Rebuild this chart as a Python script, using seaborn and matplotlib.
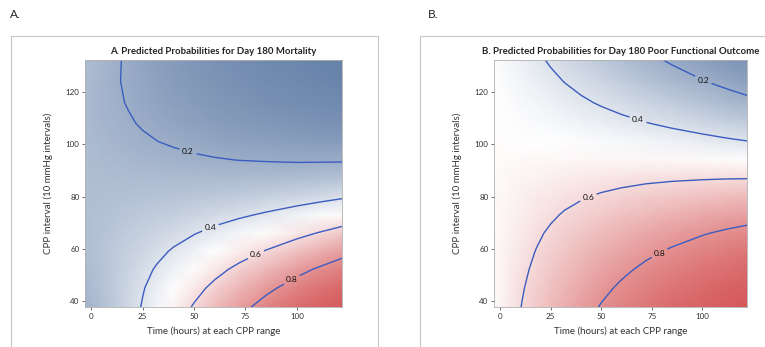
import numpy as np
import matplotlib
matplotlib.use("Agg")
import matplotlib.pyplot as plt
import seaborn as sns

# grid the predicted probabilities were read on
time_h = [-3, 4, 11, 18, 25, 32, 40, 50, 60, 72, 85, 100, 112, 122]
cpp = [37.7, 45, 52, 59, 66, 73, 80, 87, 94, 101, 108, 116, 124, 132.3]

# A. day 180 mortality (rows = cpp, cols = time), x1000
mort = [
    [216, 257, 303, 353, 407, 463, 529, 611, 687, 768, 839, 899, 933, 953],
    [234, 270, 308, 349, 393, 439, 493, 561, 628, 703, 775, 844, 887, 915],
    [247, 276, 307, 339, 374, 410, 453, 508, 564, 630, 698, 770, 819, 855],
    [256, 278, 301, 326, 351, 378, 410, 452, 495, 549, 607, 675, 726, 766],
    [260, 276, 292, 309, 326, 345, 367, 395, 426, 465, 510, 565, 610, 649],
    [261, 271, 280, 290, 301, 311, 324, 341, 360, 384, 413, 451, 485, 515],
    [260, 264, 267, 271, 275, 279, 285, 292, 300, 312, 326, 346, 366, 385],
    [257, 255, 254, 252, 251, 250, 249, 248, 248, 250, 253, 259, 266, 275],
    [254, 247, 241, 235, 229, 224, 218, 211, 205, 199, 195, 191, 191, 191],
    [250, 240, 229, 219, 210, 201, 192, 181, 171, 160, 151, 142, 137, 133],
    [248, 234, 220, 207, 194, 183, 171, 156, 144, 131, 118, 107, 99, 94],
    [248, 230, 212, 196, 181, 167, 152, 136, 121, 106, 93, 80, 72, 66],
    [251, 229, 209, 190, 173, 157, 140, 122, 106, 90, 76, 63, 54, 49],
    [260, 235, 211, 190, 170, 152, 133, 113, 96, 80, 65, 52, 44, 38],
]

# B. day 180 poor functional outcome, x1000
poor = [
    [511, 558, 604, 647, 688, 725, 764, 806, 842, 877, 907, 933, 948, 958],
    [513, 554, 594, 633, 669, 703, 739, 779, 814, 849, 881, 909, 926, 938],
    [513, 549, 584, 618, 650, 681, 713, 750, 783, 818, 849, 879, 898, 912],
    [514, 545, 574, 603, 631, 657, 686, 719, 749, 781, 811, 841, 861, 876],
    [514, 539, 564, 588, 611, 632, 656, 684, 710, 739, 766, 794, 813, 827],
    [514, 534, 553, 571, 589, 607, 625, 648, 668, 691, 713, 736, 753, 765],
    [513, 527, 541, 555, 568, 580, 593, 609, 623, 639, 654, 669, 680, 688],
    [512, 521, 529, 538, 545, 552, 559, 568, 575, 583, 589, 594, 597, 598],
    [510, 514, 517, 520, 522, 524, 525, 526, 525, 524, 520, 514, 508, 501],
    [508, 507, 504, 502, 498, 495, 490, 483, 475, 464, 450, 433, 417, 404],
    [506, 499, 491, 483, 474, 465, 454, 440, 424, 404, 382, 355, 332, 313],
    [503, 490, 476, 461, 447, 431, 414, 391, 368, 340, 309, 274, 246, 224],
    [499, 480, 460, 439, 419, 398, 374, 344, 314, 280, 244, 205, 176, 154],
    [495, 469, 443, 416, 390, 363, 334, 298, 263, 225, 187, 148, 121, 102],
]

levels = [0.2, 0.4, 0.6, 0.8]
xticks = [0, 25, 50, 75, 100]
yticks = [40, 60, 80, 100, 120]
titles = ["A. Predicted Probabilities for Day 180 Mortality",
          "B. Predicted Probabilities for Day 180 Poor Functional Outcome"]
panel_tags = ["A.", "B."]

sns.set_theme(style="white")
plt.rcParams["font.family"] = ["Lato", "DejaVu Sans"]
cmap = sns.blend_palette(["#5b78a3", "#ffffff", "#d24a4b"], as_cmap=True)

fig = plt.figure(figsize=(7.65, 3.47), dpi=100)
W, H = 765, 347

# light grey boxes around each panel
for x0, x1 in [(11, 378), (420, 766)]:
    fig.add_artist(plt.Line2D([x0/W, x1/W], [1-36/H, 1-36/H], color="#c8c8c8", lw=0.8))
    fig.add_artist(plt.Line2D([x0/W, x0/W], [1-36/H, 0], color="#c8c8c8", lw=0.8))
fig.add_artist(plt.Line2D([378/W, 378/W], [1-36/H, 0], color="#c8c8c8", lw=0.8))
fig.text(10/W, 1-15/H, panel_tags[0], fontsize=8.5, va="center", ha="left")
fig.text(428/W, 1-15/H, panel_tags[1], fontsize=8.5, va="center", ha="left")

boxes = [(85, 342), (494, 747)]
spots = [[(47, 97), (58, 68), (80, 58), (97, 49)],
         [(100, 124), (68, 109), (44, 79), (79, 58)]]

for i, grid in enumerate([mort, poor]):
    P = np.array(grid) / 1000
    l, r = boxes[i]
    ax = fig.add_axes([l/W, 1-307/H, (r-l)/W, 247/H])
    ax.pcolormesh(time_h, cpp, P, cmap=cmap, shading="gouraud", vmin=0, vmax=1)
    cs = ax.contour(time_h, cpp, P, levels=levels, colors="#3b5cc0", linewidths=1.0)
    labs = ax.clabel(cs, fontsize=6, fmt="%.1f", colors="#111111",
                     manual=spots[i], inline_spacing=3)
    for t in labs:
        t.set_rotation(0)
    ax.set_xlim(-3, 122)
    ax.set_ylim(37.7, 132.3)
    ax.set_xticks(xticks)
    ax.set_yticks(yticks)
    ax.tick_params(labelsize=5.8, colors="#333333", length=2, width=0.5, pad=2,
                   bottom=True, left=True)
    for s in ax.spines.values():
        s.set_color("#b0b0b0")
        s.set_linewidth(0.6)
    ax.set_title(titles[i], fontsize=6.9, fontweight="bold", pad=4, color="#222222")
    ax.set_xlabel("Time (hours) at each CPP range", fontsize=7, color="#333333", labelpad=5)
    ax.set_ylabel("CPP interval (10 mmHg intervals)", fontsize=7, color="#333333", labelpad=9)

fig.savefig("out.png", dpi=100)
